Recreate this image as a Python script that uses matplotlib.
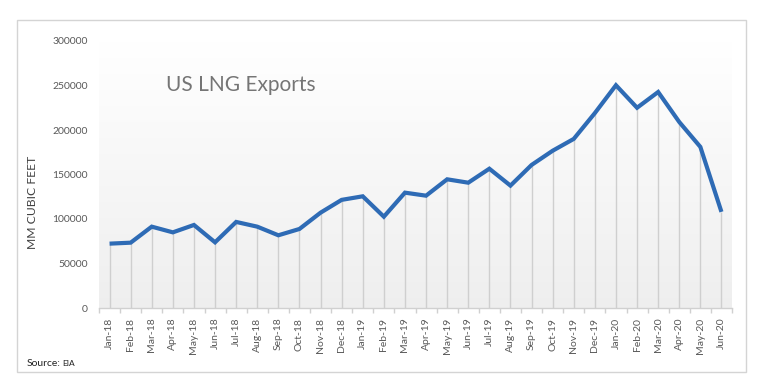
import matplotlib
matplotlib.use("Agg")
import matplotlib.pyplot as plt
import numpy as np
from matplotlib.patches import Rectangle
from matplotlib.ticker import FixedLocator

plt.rcParams['font.family'] = ['Lato', 'DejaVu Sans']

months = ["Jan-18", "Feb-18", "Mar-18", "Apr-18", "May-18", "Jun-18", "Jul-18", "Aug-18",
          "Sep-18", "Oct-18", "Nov-18", "Dec-18", "Jan-19", "Feb-19", "Mar-19", "Apr-19",
          "May-19", "Jun-19", "Jul-19", "Aug-19", "Sep-19", "Oct-19", "Nov-19", "Dec-19",
          "Jan-20", "Feb-20", "Mar-20", "Apr-20", "May-20", "Jun-20"]
exports = [72300, 73400, 91400, 85000, 93300, 73800, 96700, 91400,
           81700, 88800, 107100, 121500, 125500, 102600, 129600, 126200,
           144600, 140800, 156500, 137500, 160700, 176700, 190000, 219000,
           250300, 225000, 242700, 209000, 181000, 108000]
yticks = [0, 50000, 100000, 150000, 200000, 250000, 300000]

W, H = 776, 390
fig = plt.figure(figsize=(W / 100, H / 100), dpi=100)
fig.patch.set_facecolor("white")

# outer frame
fig.patches.append(Rectangle((17 / W, 1 - 372 / H), (746 - 17) / W, (372 - 20) / H,
                             transform=fig.transFigure, fill=False,
                             edgecolor="#d4d4d4", linewidth=1.0))

ax = fig.add_axes([99 / W, 1 - 308 / H, (732 - 99) / W, (308 - 41) / H])
x = np.arange(len(months))
ax.set_xlim(-0.5, len(months) - 0.5)
ax.set_ylim(0, 300000)

# gradient background
grad = np.linspace(1.0, 0.0, 256).reshape(-1, 1)
top = np.array([1.0, 1.0, 1.0])
bot = np.array([0.935, 0.935, 0.935])
img = top * grad[..., None] + bot * (1 - grad[..., None])
ax.imshow(img, extent=[-0.5, len(months) - 0.5, 0, 300000], aspect="auto",
          zorder=0, origin="upper")

# drop lines
ax.vlines(x, 0, exports, color="#cfcfcf", linewidth=1.0, zorder=1)
ax.plot(x, exports, color="#2E6BB5", linewidth=3.0, solid_joinstyle="miter",
        solid_capstyle="butt", zorder=3)

for s in ["top", "right", "left"]:
    ax.spines[s].set_visible(False)
ax.spines["bottom"].set_color("#d0d0d0")
ax.spines["bottom"].set_linewidth(1.0)

ax.set_yticks(yticks)
ax.set_yticklabels([str(v) for v in yticks])
ax.tick_params(axis="y", length=0, pad=8, labelsize=7.5, labelcolor="#595959")

ax.set_xticks(x)
ax.set_xticklabels(months, rotation=90)
ax.tick_params(axis="x", which="major", length=0, pad=7, labelsize=7.5, labelcolor="#595959")
ax.xaxis.set_minor_locator(FixedLocator(np.arange(-0.5, len(months), 1.0)))
ax.tick_params(axis="x", which="minor", length=3.5, color="#d0d0d0", width=1.0)

ax.set_ylabel("MM CUBIC FEET", fontsize=8.7, color="#404040")
ax.yaxis.set_label_coords(-(99 - 38) / (732 - 99), (308 - 202) / (308 - 41))

fig.text(166 / W, 1 - 85 / H, "US LNG Exports", fontsize=15, color="#757575",
         ha="left", va="center")

fig.text(27 / W, 1 - 364 / H, "Source:", fontsize=7.5, color="#222222", ha="left", va="center")
fig.text(62 / W, 1 - 364 / H, "EIA", fontsize=6, color="#222222", ha="left", va="center")

fig.savefig("out.png", dpi=100, facecolor="white")
